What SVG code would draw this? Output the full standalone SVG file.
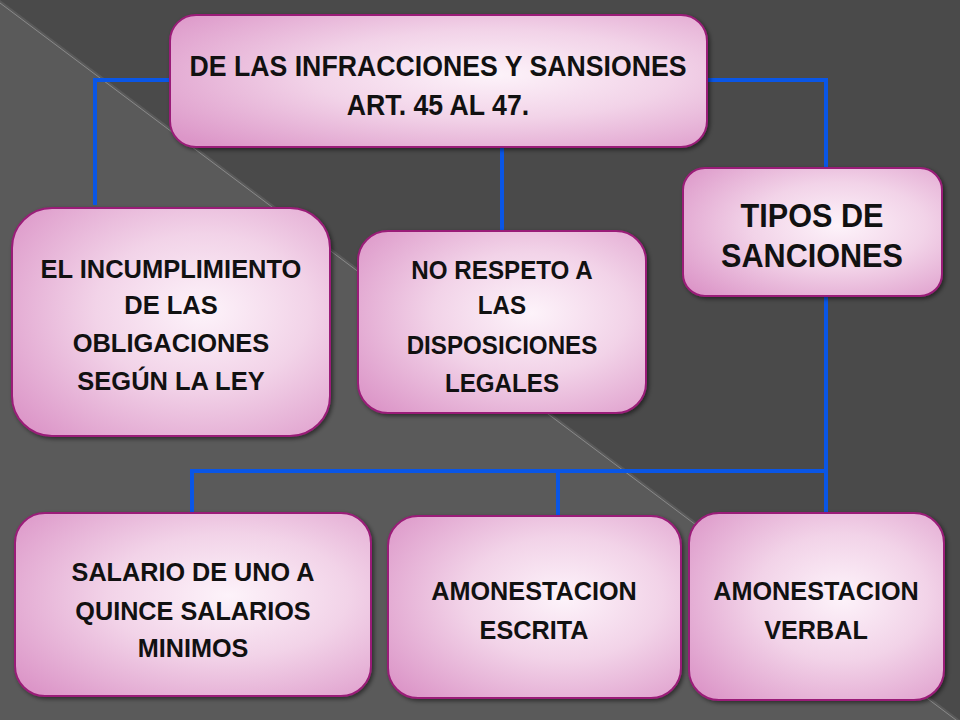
<svg xmlns="http://www.w3.org/2000/svg" width="960" height="720" viewBox="0 0 960 720">
<defs>
<radialGradient id="g" cx="0.6" cy="0.45" r="0.75">
<stop offset="0" stop-color="#fdf3fa"/><stop offset="0.45" stop-color="#f2d3e8"/><stop offset="1" stop-color="#dc96c8"/>
</radialGradient>
<filter id="sh" x="-10%" y="-10%" width="120%" height="120%"><feDropShadow dx="2" dy="2" stdDeviation="2" flood-color="#000" flood-opacity="0.5"/></filter>
</defs>
<style>
.b{fill:url(#g);stroke:#9a1d78;stroke-width:2;filter:url(#sh)}
.t{font-family:"Liberation Sans",Arial,sans-serif;font-weight:bold;fill:#111;text-anchor:middle}
.c{stroke:#0a56e6;stroke-width:4;fill:none}
</style>
<rect width="960" height="720" fill="#4a4a4a"/>
<polygon points="0,0 960,720 0,720" fill="#5a5a5a"/>
<line x1="0" y1="3" x2="960" y2="723" stroke="#8a8a8a" stroke-width="1"/>
<g id="connectors">
<polyline class="c" points="172,80 95,80 95,205"/>
<polyline class="c" points="705,80 826,80 826,168"/>
<line class="c" x1="502" y1="147" x2="502" y2="231"/>
<line class="c" x1="826" y1="296" x2="826" y2="513"/>
<line class="c" x1="190" y1="471" x2="828" y2="471"/>
<line class="c" x1="192" y1="469" x2="192" y2="513"/>
<line class="c" x1="558" y1="469" x2="558" y2="516"/>
</g>
<g id="n1"><rect class="b" x="170" y="15" width="537" height="132" rx="26"/>
<text class="t" font-size="29" transform="translate(438,0) scale(0.92,1)"><tspan x="0" y="76">DE LAS INFRACCIONES Y SANSIONES</tspan><tspan x="0" y="115">ART. 45 AL 47.</tspan></text></g>
<g id="n2"><rect class="b" x="12" y="208" width="318" height="228" rx="40"/>
<text class="t" font-size="26" transform="translate(171,0) scale(0.98,1)"><tspan x="0" y="278">EL INCUMPLIMIENTO</tspan><tspan x="0" y="314">DE LAS</tspan><tspan x="0" y="352">OBLIGACIONES</tspan><tspan x="0" y="390">SEGÚN LA LEY</tspan></text></g>
<g id="n3"><rect class="b" x="358" y="231" width="288" height="182" rx="30"/>
<text class="t" font-size="26" transform="translate(502,0) scale(0.93,1)"><tspan x="0" y="279">NO RESPETO A</tspan><tspan x="0" y="314">LAS</tspan><tspan x="0" y="354">DISPOSICIONES</tspan><tspan x="0" y="392">LEGALES</tspan></text></g>
<g id="n4"><rect class="b" x="683" y="168" width="259" height="128" rx="22"/>
<text class="t" font-size="34" transform="translate(812,0) scale(0.9,1)"><tspan x="0" y="227">TIPOS DE</tspan><tspan x="0" y="267">SANCIONES</tspan></text></g>
<g id="n5"><rect class="b" x="15" y="513" width="356" height="183" rx="30"/>
<text class="t" font-size="26" transform="translate(193,0) scale(0.97,1)"><tspan x="0" y="581">SALARIO DE UNO A</tspan><tspan x="0" y="620">QUINCE SALARIOS</tspan><tspan x="0" y="657">MINIMOS</tspan></text></g>
<g id="n6"><rect class="b" x="388" y="516" width="293" height="182" rx="30"/>
<text class="t" font-size="26" transform="translate(534,0) scale(0.97,1)"><tspan x="0" y="600">AMONESTACION</tspan><tspan x="0" y="639">ESCRITA</tspan></text></g>
<g id="n7"><rect class="b" x="689" y="513" width="255" height="187" rx="30"/>
<text class="t" font-size="26" transform="translate(816,0) scale(0.97,1)"><tspan x="0" y="600">AMONESTACION</tspan><tspan x="0" y="639">VERBAL</tspan></text></g>
</svg>
